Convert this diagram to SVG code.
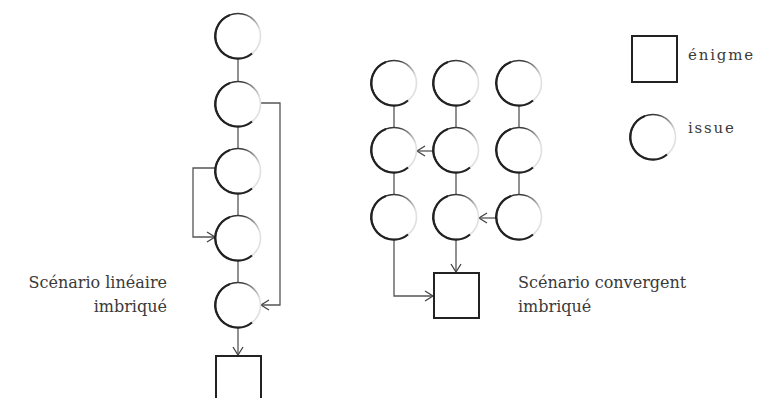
<svg xmlns="http://www.w3.org/2000/svg" xmlns:xlink="http://www.w3.org/1999/xlink" width="758" height="398" viewBox="0 0 758 398">
<style>
.ln{fill:none;stroke:#555;stroke-width:1.3}
.lbl{font-family:"DejaVu Serif","Liberation Serif",serif;font-size:16px;fill:#3a3a3a}
.leg{font-family:"DejaVu Serif","Liberation Serif",serif;font-size:15px;fill:#3a3a3a;letter-spacing:1.8px}
.sq{fill:#fff;stroke:#222;stroke-width:2}
</style>
<defs>
<linearGradient id="g" x1="0" y1="0" x2="1" y2="0.3">
<stop offset="0" stop-color="#111"/>
<stop offset="0.6" stop-color="#444"/>
<stop offset="1" stop-color="#e0e0e0"/>
</linearGradient>
<g id="c">
<circle r="22.5" fill="#fff" stroke="url(#g)" stroke-width="1.6"/>
<path d="M-8,-21 A22.5,22.5 0 1 0 14,17.5" fill="none" stroke="#222" stroke-width="2.2"/>
</g>
<marker id="a" markerWidth="12" markerHeight="12" refX="10" refY="6" orient="auto" markerUnits="userSpaceOnUse">
<path d="M2,1 L10,6 L2,11" fill="none" stroke="#444" stroke-width="1.3"/>
</marker>
</defs>
<g id="connectors">
<line class="ln" x1="238" y1="59" x2="238" y2="81"/>
<line class="ln" x1="238" y1="127" x2="238" y2="148"/>
<line class="ln" x1="238" y1="194" x2="238" y2="215"/>
<line class="ln" x1="238" y1="261" x2="238" y2="282"/>
<line class="ln" x1="238" y1="328" x2="238" y2="355" marker-end="url(#a)"/>
<polyline class="ln" points="216,168 193,168 193,237 215,237" marker-end="url(#a)"/>
<polyline class="ln" points="261,103 280,103 280,305 261,305" marker-end="url(#a)"/>
<line class="ln" x1="394" y1="106" x2="394" y2="128"/>
<line class="ln" x1="456" y1="106" x2="456" y2="128"/>
<line class="ln" x1="519" y1="106" x2="519" y2="128"/>
<line class="ln" x1="394" y1="173" x2="394" y2="195"/>
<line class="ln" x1="456" y1="173" x2="456" y2="195"/>
<line class="ln" x1="519" y1="173" x2="519" y2="195"/>
<line class="ln" x1="433" y1="151" x2="417" y2="151" marker-end="url(#a)"/>
<line class="ln" x1="496" y1="218" x2="479" y2="218" marker-end="url(#a)"/>
<line class="ln" x1="456" y1="240" x2="456" y2="272" marker-end="url(#a)"/>
<polyline class="ln" points="394,240 394,296 433,296" marker-end="url(#a)"/>
</g>
<g id="lin1"><use xlink:href="#c" x="238" y="36"/></g>
<g id="lin2"><use xlink:href="#c" x="238" y="104"/></g>
<g id="lin3"><use xlink:href="#c" x="238" y="171"/></g>
<g id="lin4"><use xlink:href="#c" x="238" y="238"/></g>
<g id="lin5"><use xlink:href="#c" x="238" y="305"/></g>
<g id="linEnigme"><rect class="sq" x="216" y="356" width="45" height="46"/></g>
<g id="conv11"><use xlink:href="#c" x="394" y="83"/></g>
<g id="conv12"><use xlink:href="#c" x="456" y="83"/></g>
<g id="conv13"><use xlink:href="#c" x="519" y="83"/></g>
<g id="conv21"><use xlink:href="#c" x="394" y="150"/></g>
<g id="conv22"><use xlink:href="#c" x="456" y="150"/></g>
<g id="conv23"><use xlink:href="#c" x="519" y="150"/></g>
<g id="conv31"><use xlink:href="#c" x="394" y="217"/></g>
<g id="conv32"><use xlink:href="#c" x="456" y="217"/></g>
<g id="conv33"><use xlink:href="#c" x="519" y="217"/></g>
<g id="convEnigme"><rect class="sq" x="434" y="273" width="45" height="45"/></g>
<g id="legendEnigme"><rect class="sq" x="632" y="36" width="45" height="46"/><text class="leg" x="688" y="60">énigme</text></g>
<g id="legendIssue"><use xlink:href="#c" x="653" y="137"/><text class="leg" x="688" y="133">issue</text></g>
<g id="labelLinear"><text class="lbl" x="167" y="288" text-anchor="end">Scénario linéaire</text><text class="lbl" x="167" y="312" text-anchor="end">imbriqué</text></g>
<g id="labelConv"><text class="lbl" x="518" y="288">Scénario convergent</text><text class="lbl" x="518" y="312">imbriqué</text></g>
</svg>
